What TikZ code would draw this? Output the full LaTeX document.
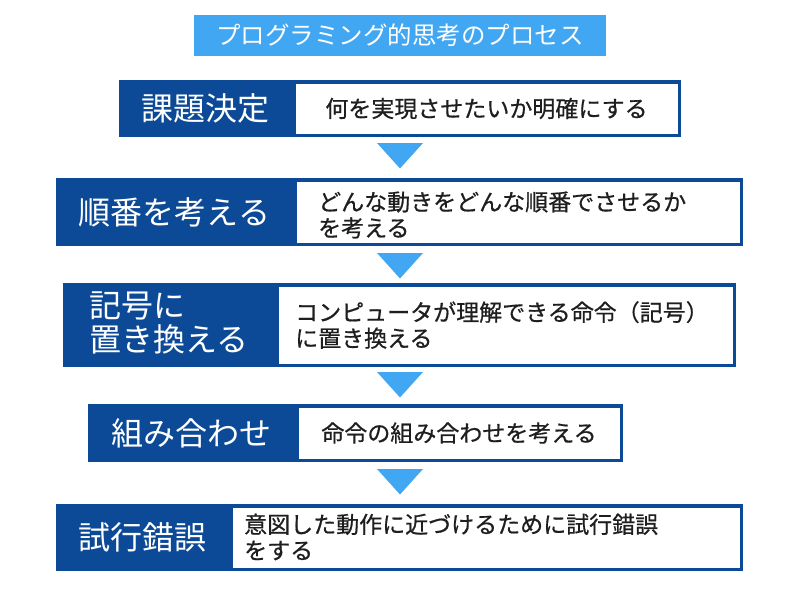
\documentclass[tikz,border=0pt]{standalone}
\usepackage{fontspec}
\newfontfamily\jp{Noto Sans CJK JP}
\newfontfamily\jpm[FakeBold=0.6]{Noto Sans CJK JP}
\definecolor{dkblue}{RGB}{12,74,151}
\definecolor{ltblue}{RGB}{66,167,242}
\definecolor{txt}{RGB}{30,30,30}
\begin{document}
\begin{tikzpicture}[x=1pt,y=-1pt,
  titlebox/.style={fill=ltblue, text=white, inner sep=0pt, outer sep=0pt,
    font=\jp\fontsize{24.5}{26}\selectfont},
  labelbox/.style={fill=dkblue, inner sep=0pt, outer sep=0pt, anchor=north west},
  descbox/.style={draw=dkblue, fill=white, line width=3.5pt, inner sep=0pt, outer sep=0pt},
  labeltext/.style={text=white, inner sep=0pt, align=left,
    font=\jp\fontsize{32}{34}\selectfont},
  desctext/.style={text=txt, inner sep=0pt, align=left,
    font=\jpm\fontsize{23}{26}\selectfont},
  tri/.style={fill=ltblue}]
\useasboundingbox (0,0) rectangle (800,600);
\fill[white] (0,0) rectangle (800,600);

% title
\node[titlebox, minimum width=412pt, minimum height=41pt] (title) at (400,35.5) {プログラミング的思考のプロセス};

% row 1
\node[labelbox, minimum width=173pt, minimum height=57pt] (k1) at (119,80) {};
\node[descbox, minimum width=385.5pt, minimum height=53.5pt] (d1) at (486.5,108.5) {};
\node[labeltext] (k1t) at (k1.center) {課題決定};
\node[desctext] (d1t) at (d1.center) {何を実現させたいか明確にする};

% row 2
\node[labelbox, minimum width=237pt, minimum height=68pt] (k2) at (56,178) {};
\node[descbox, minimum width=446.5pt, minimum height=64.5pt] (d2) at (518,212) {};
\node[labeltext] (k2t) at (k2.center) {順番を考える};
\node[desctext, anchor=west] (d2t) at (318,215) {どんな動きをどんな順番でさせるか\\を考える};

% row 3
\node[labelbox, minimum width=212pt, minimum height=84pt] (k3) at (63,283) {};
\node[descbox, minimum width=457.5pt, minimum height=80.5pt] (d3) at (505.5,325) {};
\node[labeltext] (k3t) at (169,323) {記号に\\置き換える};
\node[desctext, anchor=west] (d3t) at (295,325) {コンピュータが理解できる命令（記号）\\に置き換える};

% row 4
\node[labelbox, minimum width=207pt, minimum height=58pt] (k4) at (88,404) {};
\node[descbox, minimum width=324.5pt, minimum height=54.5pt] (d4) at (459,433) {};
\node[labeltext] (k4t) at (k4.center) {組み合わせ};
\node[desctext] (d4t) at (d4.center) {命令の組み合わせを考える};

% row 5
\node[labelbox, minimum width=173pt, minimum height=67pt] (k5) at (56,504) {};
\node[descbox, minimum width=510.5pt, minimum height=63.5pt] (d5) at (486,537.5) {};
\node[labeltext] (k5t) at (k5.center) {試行錯誤};
\node[desctext, anchor=west] (d5t) at (244,537) {意図した動作に近づけるために試行錯誤\\をする};

% arrow triangles
\coordinate (a1) at (400,143);
\coordinate (a2) at (400,253);
\coordinate (a3) at (400,372);
\coordinate (a4) at (400,469);
\foreach \a in {a1,a2,a3,a4}{
  \fill[tri] ([xshift=-23pt]\a) -- ([xshift=23pt]\a) -- ([yshift=-25.5pt]\a) -- cycle;
}
\end{tikzpicture}
\end{document}
